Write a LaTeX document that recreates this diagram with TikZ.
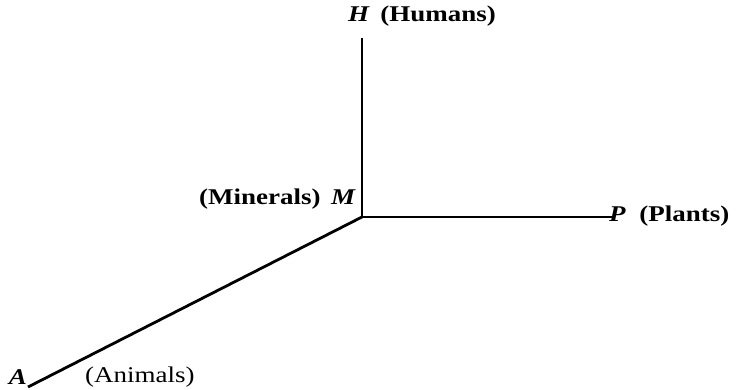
\documentclass[tikz,border=0pt]{standalone}
\usepackage{fontspec}
\setmainfont{Liberation Serif}[FakeStretch=1.2]
\begin{document}
\begin{tikzpicture}[x=1pt,y=-1pt,
  axis/.style={line width=2.8pt,black},
  lbl/.style={font=\fontsize{22.5}{25}\selectfont\bfseries,inner sep=0pt}]
\useasboundingbox (0,0) rectangle (739,390);
\coordinate (m) at (362,217);
\coordinate (h) at (362,38);
\coordinate (p) at (612,217);
\coordinate (a) at (28,387);
\draw[axis] (m) -- (h);
\draw[axis] (m) -- (p);
\draw[axis] (m) -- (a);
\node[lbl,anchor=west] (hl) at (348,16) {\textit{H}\ \,(Humans)};
\node[lbl,anchor=east] (ml) at (356,199) {(Minerals)\ \,\textit{M}};
\node[lbl,anchor=west] (pl) at (609,216) {\textit{P}\ \ (Plants)};
\node[lbl] (al) at (18,377) {\textit{A}};
\node[lbl,anchor=west,font=\fontsize{22.5}{25}\selectfont\mdseries] (anl) at (85,377) {(Animals)};
\end{tikzpicture}
\end{document}
